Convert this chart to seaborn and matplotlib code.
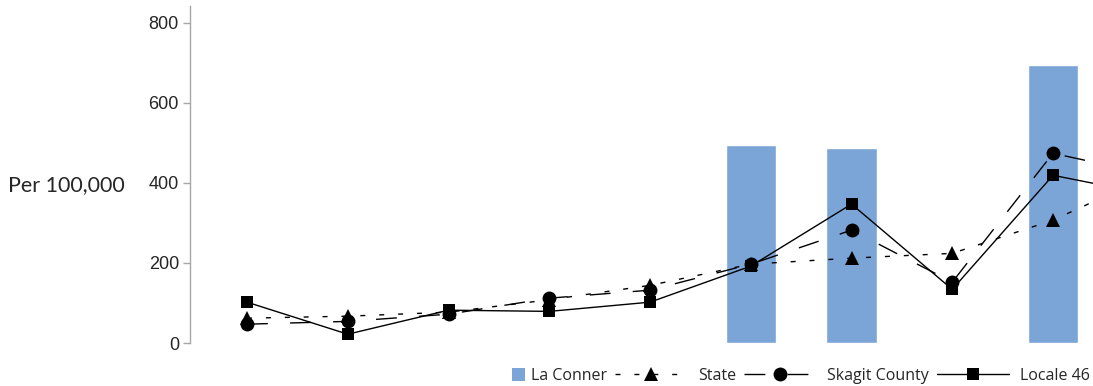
import pandas as pd
import matplotlib
matplotlib.use("Agg")
import matplotlib.pyplot as plt
import matplotlib.patches as mpatches
from matplotlib.legend_handler import HandlerPatch
import seaborn as sns

# categories along x (labels are not shown on the chart); the last one sits past the right edge
periods = ["P1", "P2", "P3", "P4", "P5", "P6", "P7", "P8", "P9", "P10"]
la_conner = [None, None, None, None, None, 494, 487, None, 694, None]
state = [62, 67, 77, 108, 144, 197, 212, 224, 307, 422]
skagit = [47, 54, 72, 112, 132, 197, 282, 152, 474, 419]
locale46 = [102, 22, 82, 79, 102, 192, 347, 134, 419, 369]
y_ticks = [0, 200, 400, 600, 800]

df = pd.DataFrame({"period": periods, "pos": range(len(periods)),
                   "La Conner": la_conner, "State": state,
                   "Skagit County": skagit, "Locale 46": locale46})

sns.set_style("white")
plt.rcParams["font.family"] = ["Liberation Sans", "DejaVu Sans"]

fig = plt.figure(figsize=(10.93, 3.86), dpi=100)
ax = fig.add_axes([190 / 1093, 43 / 386, 903 / 1093, 337 / 386])

bar_color = "#7BA5D7"
bars = df.dropna(subset=["La Conner"])
sns.barplot(data=bars, x="pos", y="La Conner", order=list(range(len(periods))),
            color=bar_color, saturation=1, width=0.5, ax=ax, label="La Conner",
            zorder=1)

sns.lineplot(data=df, x="pos", y="State", ax=ax, color="black", lw=1,
             linestyle=(0, (3.6, 10)), marker="^", markersize=10,
             markeredgewidth=0, label="State", zorder=3)
sns.lineplot(data=df, x="pos", y="Skagit County", ax=ax, color="black", lw=1,
             linestyle=(0, (15, 16)), marker="o", markersize=10,
             markeredgewidth=0, label="Skagit County", zorder=4)
sns.lineplot(data=df, x="pos", y="Locale 46", ax=ax, color="black", lw=1,
             linestyle="-", marker="s", markersize=9,
             markeredgewidth=0, label="Locale 46", zorder=5)

ax.set_xlim(-0.566, 8.397)
ax.set_ylim(0, 842)
ax.set_yticks(y_ticks)
ax.set_xticks([])
ax.set_xlabel("")
ax.tick_params(axis="y", length=5, width=1, color="#A6A6A6", pad=3,
               labelsize=13, direction="out", left=True)
for lbl in ax.get_yticklabels():
    lbl.set_family(["Liberation Sans", "DejaVu Sans"])
for side in ["top", "right", "bottom"]:
    ax.spines[side].set_visible(False)
ax.spines["left"].set_color("#A6A6A6")
ax.spines["left"].set_linewidth(1)

ax.set_ylabel("Per 100,000", rotation=0, fontsize=15.5, family="Lato",
              ha="center", va="center")
ax.yaxis.set_label_coords(-0.1368, 0.47)

handles, labels = ax.get_legend_handles_labels()
if ax.legend_:
    ax.legend_.remove()
handles[labels.index("La Conner")] = mpatches.Patch(facecolor=bar_color, edgecolor="none")


def square_patch(legend, orig_handle, xdescent, ydescent, width, height, fontsize):
    s = 9.5
    return mpatches.Rectangle((width - xdescent - s + 4, -ydescent + (height - s) / 2), s, s)


order = ["La Conner", "State", "Skagit County", "Locale 46"]
handles = [handles[labels.index(l)] for l in order]
fig.legend(handles, order, loc="center right", bbox_to_anchor=(1090 / 1093, 1 - 376 / 386),
           ncol=4, frameon=False, prop={"family": "Open Sans", "size": 11.5},
           handlelength=4.5, handletextpad=0.7, columnspacing=0.5, borderpad=0,
           borderaxespad=0, handler_map={mpatches.Patch: HandlerPatch(patch_func=square_patch)})

fig.savefig("out.png", dpi=100)
